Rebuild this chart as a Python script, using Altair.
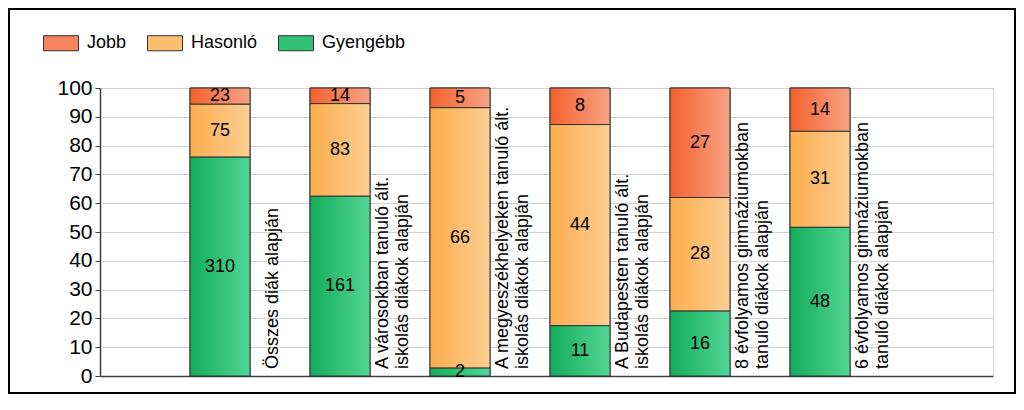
import altair as alt
import pandas as pd

categories = [
    "Összes diák alapján",
    "A városokban tanuló ált.\niskolás diákok alapján",
    "A megyeszékhelyeken tanuló ált.\niskolás diákok alapján",
    "A Budapesten tanuló ált.\niskolás diákok alapján",
    "8 évfolyamos gimnáziumokban\ntanuló diákok alapján",
    "6 évfolyamos gimnáziumokban\ntanuló diákok alapján",
]
series = ["Jobb", "Hasonló", "Gyengébb"]
jobb = [23, 14, 5, 8, 27, 14]
hasonlo = [75, 83, 66, 44, 28, 31]
gyengebb = [310, 161, 2, 11, 16, 48]
y_ticks = [0, 10, 20, 30, 40, 50, 60, 70, 80, 90, 100]

rows = []
for i, cat in enumerate(categories):
    for s, vals, order in (("Gyengébb", gyengebb, 0), ("Hasonló", hasonlo, 1), ("Jobb", jobb, 2)):
        rows.append({"cat": cat, "idx": i, "series": s, "value": vals[i], "order": order})
df = pd.DataFrame(rows)
lab_df = pd.DataFrame({"cat": categories, "idx": list(range(len(categories)))})

W, H = 893, 288
PAD_L, PAD_T, PAD_R, PAD_B = 92, 80, 23, 18
FONT = "Liberation Sans"
SLOT_PX = 120          # pixel distance between bar centres
LINE_H = 20            # line height of category labels

xscale = alt.Scale(domain=[0, W / SLOT_PX], nice=False, zero=False)
yscale = alt.Scale(domain=[0, 100], nice=False)

x_axis = alt.Axis(labels=False, ticks=False, grid=False, title=None,
                  domainColor="#404040", domainWidth=1.5)
y_axis = alt.Axis(
    values=y_ticks,
    title=None,
    labelFontSize=21,
    labelColor="#000000",
    labelFont=FONT,
    labelPadding=3,
    labelOverlap=False,
    tickSize=5,
    tickColor="#404040",
    domainColor="#404040",
    domainWidth=1.5,
    gridColor="#D2D2D2",
    gridWidth=1,
)

solid = {"Jobb": "#F6845C", "Hasonló": "#FCBF72", "Gyengébb": "#32C276"}
grads = {
    "Jobb": ("#F4602E", "#F8A384"),
    "Hasonló": ("#FBAE4E", "#FDCD92"),
    "Gyengébb": ("#14AD5B", "#50D694"),
}

base = (
    alt.Chart(df)
    .transform_joinaggregate(total="sum(value)", groupby=["cat"])
    .transform_calculate(
        pct="datum.value / datum.total * 100",
        xl="datum.idx + 0.75",
        xr="datum.idx + 1.25",
        xc="datum.idx + 1",
    )
    .transform_stack(
        stack="pct",
        groupby=["cat"],
        as_=["y0", "y1"],
        sort=[alt.SortField("order", order="ascending")],
    )
    .transform_calculate(ym="(datum.y0 + datum.y1) / 2")
)

solid_bars = base.mark_bar(stroke="#333333", strokeWidth=1).encode(
    x=alt.X("xl:Q", scale=xscale, axis=x_axis),
    x2="xr:Q",
    y=alt.Y("y0:Q", scale=yscale, axis=y_axis),
    y2="y1:Q",
    color=alt.Color(
        "series:N",
        scale=alt.Scale(domain=series, range=[solid[s] for s in series]),
        legend=alt.Legend(
            orient="none",
            legendX=-57,
            legendY=-63,
            direction="horizontal",
            title=None,
            symbolType="M-1,-0.43H1V0.43H-1Z",
            symbolSize=1225,
            symbolStrokeColor="#333333",
            symbolStrokeWidth=1,
            symbolOpacity=1,
            labelFontSize=18,
            labelFont=FONT,
            labelColor="#000000",
            labelOffset=8,
            columnPadding=18,
        ),
    ),
)

grad_layers = []
for s in series:
    c0, c1 = grads[s]
    g = alt.Gradient(
        gradient="linear",
        x1=0, y1=0, x2=1, y2=0,
        stops=[alt.GradientStop(offset=0, color=c0), alt.GradientStop(offset=1, color=c1)],
    )
    grad_layers.append(
        base.transform_filter(alt.datum.series == s)
        .mark_bar(fill=g, stroke="#333333", strokeWidth=1)
        .encode(x=alt.X("xl:Q", scale=xscale, axis=x_axis), x2="xr:Q",
                y=alt.Y("y0:Q", scale=yscale, axis=y_axis), y2="y1:Q")
    )

values_text = base.mark_text(fontSize=18, font=FONT, color="#000000", baseline="middle").encode(
    x=alt.X("xc:Q", scale=xscale, axis=x_axis),
    y=alt.Y("ym:Q", scale=yscale, axis=y_axis),
    text="value:Q",
)

cat_text = (
    alt.Chart(lab_df)
    .transform_calculate(
        lx=f"datum.idx + 1.25 - (split(datum.cat, '\\n').length - 1) * {LINE_H / 2} / {SLOT_PX}"
    )
    .mark_text(
        angle=270,
        align="left",
        baseline="middle",
        fontSize=18,
        font=FONT,
        color="#000000",
        lineBreak="\n",
        lineHeight=LINE_H,
        dx=7,
        dy=23,
    )
    .encode(
        x=alt.X("lx:Q", scale=xscale, axis=x_axis),
        y=alt.datum(0, scale=yscale, axis=y_axis),
        text="cat:N",
    )
)

frame = (
    alt.Chart(pd.DataFrame({"a": [0]}))
    .mark_rect(fillOpacity=0, stroke="#000000", strokeWidth=2)
    .encode(
        x=alt.value(-PAD_L + 1),
        x2=alt.value(W + PAD_R - 1),
        y=alt.value(-PAD_T + 1),
        y2=alt.value(H + PAD_B - 1),
    )
)

chart = (
    alt.layer(solid_bars, *grad_layers, values_text, cat_text, frame)
    .properties(
        width=W,
        height=H,
        autosize=alt.AutoSizeParams(type="none"),
        padding={"left": PAD_L, "top": PAD_T, "right": PAD_R, "bottom": PAD_B},
        background="#FFFFFF",
    )
    .configure_view(stroke=None)
    .configure(font=FONT)
)

chart.save("out.html", embed_options={"renderer": "svg", "actions": False})
